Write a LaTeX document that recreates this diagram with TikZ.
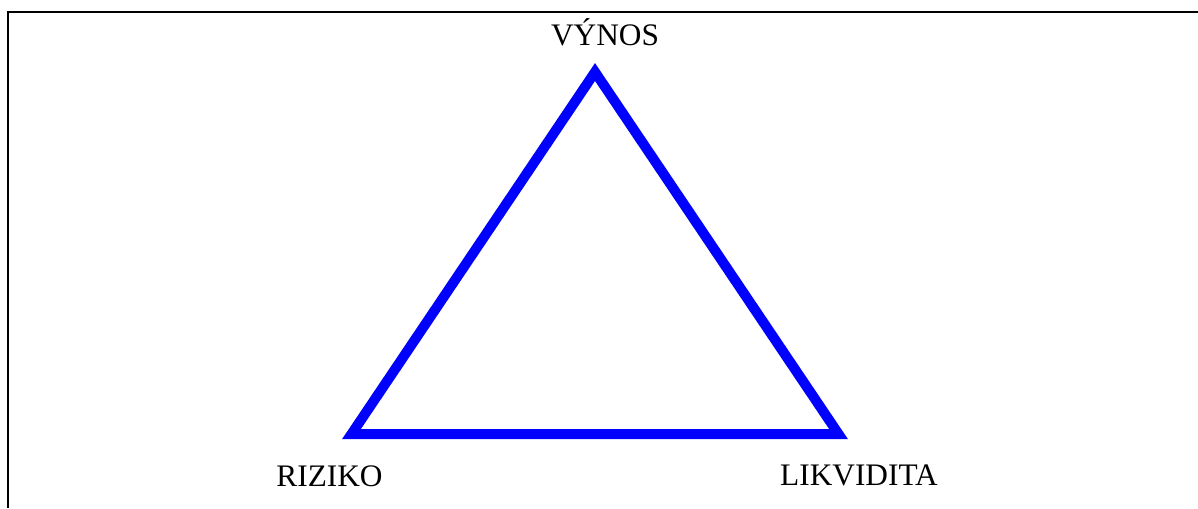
\documentclass[tikz,border=0pt]{standalone}
\usepackage{fontspec}
\setmainfont{Liberation Serif}

\begin{document}
\begin{tikzpicture}[x=0.75pt,y=-0.75pt,font=\fontsize{23.5}{28}\selectfont,
  label/.style={anchor=base,inner sep=0pt},
  side/.style={draw=blue,line width=7.5pt,miter limit=10}]
\useasboundingbox (0,0) rectangle (1198,508);
\draw[line width=1.5pt] (8,508)--(8,12)--(1198,12);
\coordinate (top) at (595,72);
\coordinate (left) at (351.5,434);
\coordinate (right) at (838.5,434);
\draw[side] (top)--(right)--(left)--cycle;
\node[label] (vynos) at (605,45){VÝNOS};
\node[label] (riziko) at (329.5,486){RIZIKO};
\node[label] (likvidita) at (859,485){LIKVIDITA};
\end{tikzpicture}
\end{document}
